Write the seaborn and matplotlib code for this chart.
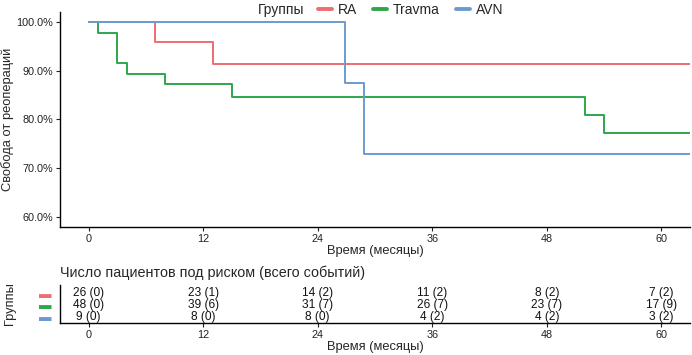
import pandas as pd
import matplotlib
matplotlib.use("Agg")
import matplotlib.pyplot as plt
import seaborn as sns

sns.set_theme(style="ticks")
plt.rcParams["font.family"] = ["Liberation Sans", "DejaVu Sans"]

groups = ["RA", "Travma", "AVN"]
colors = {"RA": "#EC6E72", "Travma": "#2EA64A", "AVN": "#6C9AD0"}

# Kaplan-Meier steps (months, % free of reoperation)
ra_time = [0, 6.9, 13.0, 63]
ra_surv = [100, 95.9, 91.4, 91.4]
travma_time = [0, 0.95, 3.0, 4.0, 8.0, 15.0, 52.0, 54.0, 63]
travma_surv = [100, 97.8, 91.5, 89.4, 87.2, 84.7, 81.0, 77.3, 77.3]
avn_time = [0, 26.9, 28.9, 63]
avn_surv = [100, 87.5, 72.9, 72.9]

# risk table
risk_times = [0, 12, 24, 36, 48, 60]
ra_risk = ["26 (0)", "23 (1)", "14 (2)", "11 (2)", "8 (2)", "7 (2)"]
travma_risk = ["48 (0)", "39 (6)", "31 (7)", "26 (7)", "23 (7)", "17 (9)"]
avn_risk = ["9 (0)", "8 (0)", "8 (0)", "4 (2)", "4 (2)", "3 (2)"]

df = pd.concat([
    pd.DataFrame({"time": ra_time, "surv": ra_surv, "group": "RA"}),
    pd.DataFrame({"time": travma_time, "surv": travma_surv, "group": "Travma"}),
    pd.DataFrame({"time": avn_time, "surv": avn_surv, "group": "AVN"}),
], ignore_index=True)

W, H = 692, 355
fig = plt.figure(figsize=(W / 100, H / 100), dpi=100)
ax = fig.add_axes([60 / W, 1 - 227 / H, 630 / W, 215 / H])
ax_t = fig.add_axes([60 / W, 1 - 323 / H, 630 / W, 38 / H])

sns.lineplot(data=df, x="time", y="surv", hue="group", hue_order=groups,
             palette=colors, estimator=None, sort=False, drawstyle="steps-post",
             linewidth=1.4, ax=ax, legend=True)

handles, labels = ax.get_legend_handles_labels()
ax.legend_.remove()

ax.set_xlim(-3, 63)
ax.set_ylim(58, 102)
ax.set_xticks(risk_times)
ax.set_yticks([60, 70, 80, 90, 100])
ax.set_yticklabels([f"{v:.1f}%" for v in [60, 70, 80, 90, 100]])
ax.set_xlabel("Время (месяцы)", fontsize=9.3, labelpad=0.5)
ax.set_ylabel("Свобода от реопераций", fontsize=9.3, labelpad=2)
ax.tick_params(labelsize=7.8, length=3, width=0.8, pad=2, colors="#222222")
sns.despine(ax=ax)
for s in ["left", "bottom"]:
    ax.spines[s].set_linewidth(1.0)
    ax.spines[s].set_color("black")

fig.text(258 / W, 1 - 10 / H, "Группы", fontsize=10, va="center", ha="left")
leg = fig.legend(handles, labels, loc="center left", bbox_to_anchor=(318 / W, 1 - 10 / H),
                 ncol=3, frameon=False, fontsize=10, handlelength=1.0,
                 handletextpad=0.4, columnspacing=1.2, borderaxespad=0, borderpad=0)
for ln in leg.get_lines():
    ln.set_linewidth(2.8)

# risk table
rows = {"RA": (3, ra_risk), "Travma": (2, travma_risk), "AVN": (1, avn_risk)}
for g in groups:
    yv, vals = rows[g]
    for t, v in zip(risk_times, vals):
        ax_t.text(t, yv, v, ha="center", va="center", fontsize=8.6, color="#111111")

ax_t.set_xlim(-3, 63)
ax_t.set_ylim(0.45, 3.7)
ax_t.set_xticks(risk_times)
ax_t.set_yticks([3, 2, 1])
ax_t.set_yticklabels(["▬", "▬", "▬"], fontsize=9)
for lab, g in zip(ax_t.get_yticklabels(), groups):
    lab.set_color(colors[g])
ax_t.tick_params(axis="y", length=0, pad=6)
ax_t.tick_params(axis="x", labelsize=7.8, length=3, width=0.8, pad=2, colors="#222222")
ax_t.set_xlabel("Время (месяцы)", fontsize=9.3, labelpad=0.5)
ax_t.set_ylabel("Группы", fontsize=9.3, labelpad=17)
ax_t.set_title("Число пациентов под риском (всего событий)", loc="left", fontsize=10.4, pad=6)
sns.despine(ax=ax_t)
for s in ["left", "bottom"]:
    ax_t.spines[s].set_linewidth(1.0)
    ax_t.spines[s].set_color("black")

fig.savefig("out.png", dpi=100)
